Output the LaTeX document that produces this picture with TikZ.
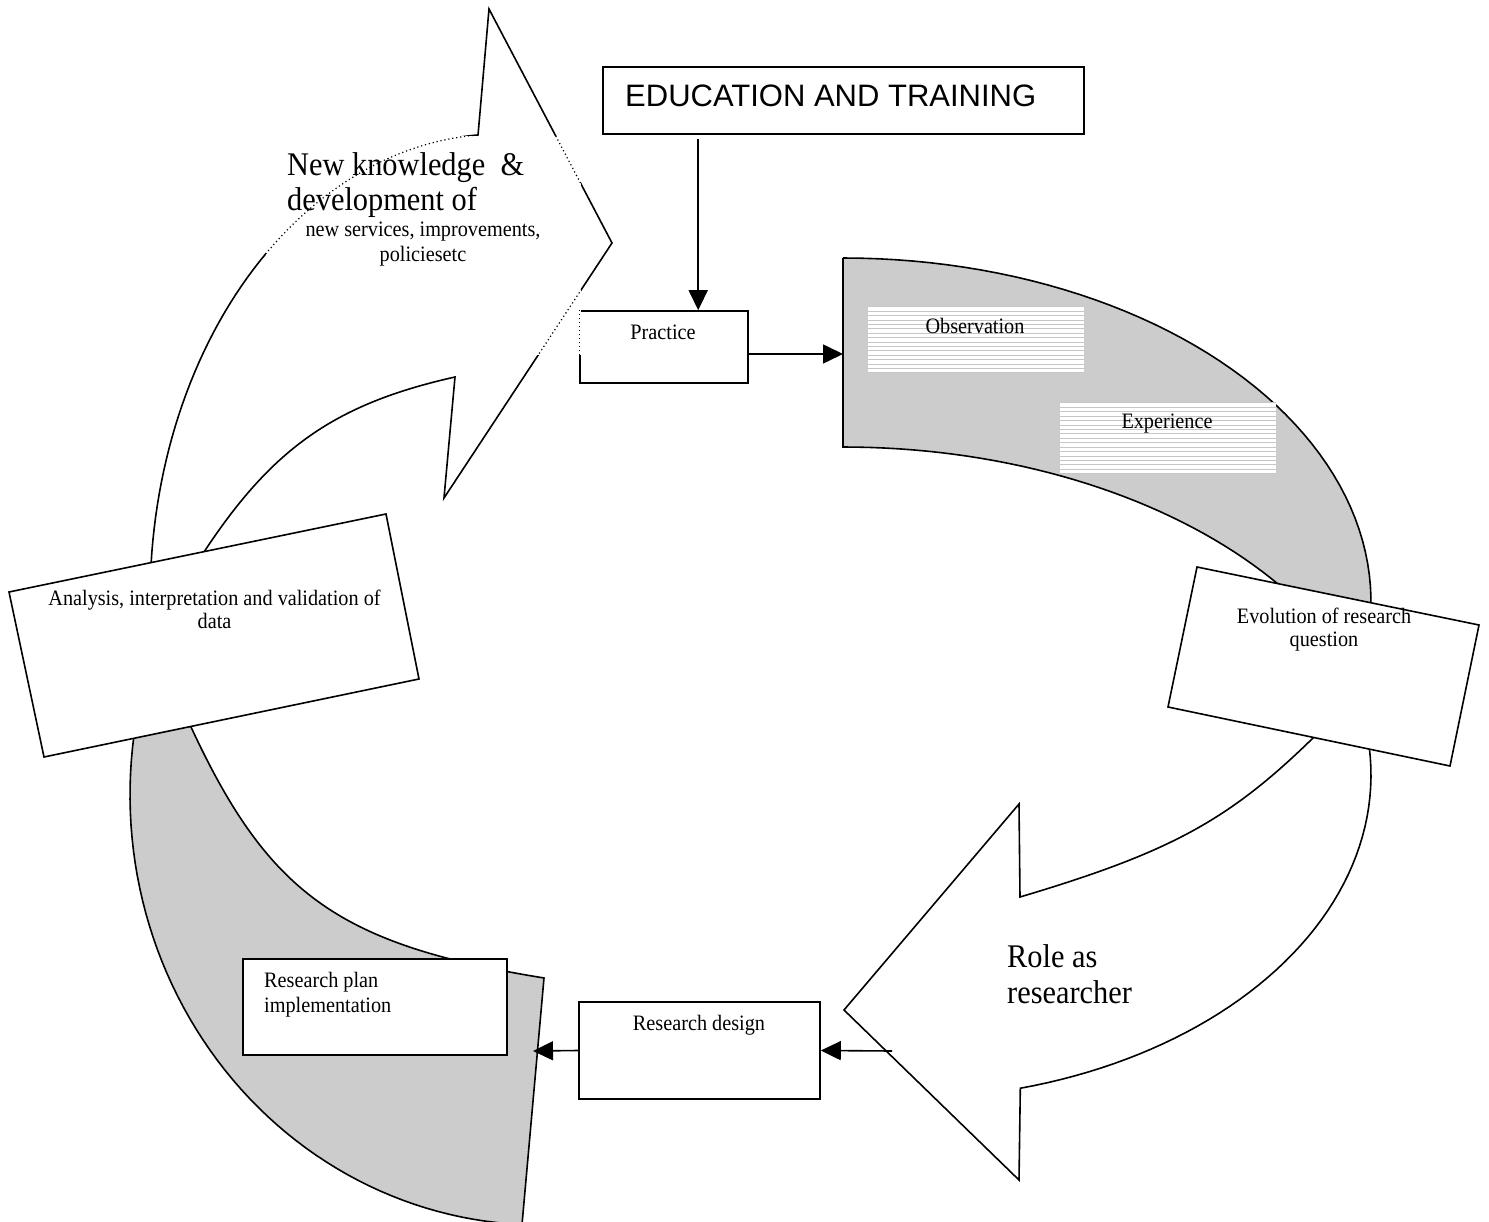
\documentclass[tikz,border=0pt]{standalone}
\usepackage{fontspec}
\setmainfont{Liberation Serif}[FakeStretch=0.92]
\newfontfamily\sansf{Liberation Sans}
\usetikzlibrary{arrows.meta}
\definecolor{shade}{RGB}{204,204,204}
\definecolor{hatchc}{RGB}{198,198,198}
\newcommand\TLpath{plot[domain=180:93.6, samples=60] ({500+350*cos(\x)},{600-466*sin(\x)}) -- (489,9) -- (612,243) -- (444,498) -- (455,377) .. controls (335.7,403.8) and (272.8,447.5) .. (204,552) -- (187,577) -- cycle}
\begin{document}
\begin{tikzpicture}[x=1pt,y=-1pt,
  outline/.style={draw=black, line width=1.6pt, line join=miter},
  panel/.style={draw=black, line width=1.6pt, fill=white},
  boxst/.style={draw=black, line width=1.6pt, fill=white, inner sep=0pt},
  sm/.style={font=\fontsize{22}{24}\selectfont, inner sep=0pt},
  lg/.style={font=\fontsize{33}{36}\selectfont, inner sep=0pt},
  arr/.style={line width=1.6pt, -{Triangle[length=20pt,width=19pt]}},
  hatch/.style={draw=hatchc, line width=0.9pt},
  dots/.style={draw=black, line width=1.2pt, dash pattern=on 1.2pt off 2.8pt},
  hbox/.style={fill=white, inner sep=0pt},
]
\useasboundingbox (0,0) rectangle (1489,1222);

% gray band bottom-left
\path[fill=shade, outline] (178,700) -- (191,727) .. controls (268.8,894.6) and (339.5,944.8) .. (544,978) -- (522,1224.6) -- plot[domain=267.5:167, samples=60] ({540+410*cos(\x)},{795-430*sin(\x)}) -- cycle;

% big white curved arrow top-left
\path[fill=white, outline] \TLpath;

% gray band top-right
\path[fill=shade, outline] (843,258) -- plot[domain=90:33, samples=40] ({843+550*cos(\x)},{800-353*sin(\x)}) -- plot[domain=-3:90, samples=50] ({843+528*cos(\x)},{602-344*sin(\x)}) -- cycle;

% white curved arrow bottom-right
\path[fill=white, outline] plot[domain=10:-75.2, samples=50] ({900+471*cos(\x)},{775-324*sin(\x)}) -- (1019,1180) -- (844,1010) -- (1019,804) -- (1020,897) .. controls (1169.8,852.4) and (1228.5,820.6) .. (1313,738) -- (1342,710) -- cycle;

% hatched labels
\node[hbox, minimum width=216pt, minimum height=66pt] (obsbox) at (976,340) {};
\foreach \k in {0,...,15} \draw[hatch] ([yshift=-\k*4.4pt]obsbox.north west) -- ([yshift=-\k*4.4pt]obsbox.north east);
\node[sm, anchor=base] (obst) at (975,334) {Observation};
\node[hbox, minimum width=216pt, minimum height=71pt] (expbox) at (1168,438.5) {};
\foreach \k in {0,...,16} \draw[hatch] ([yshift=-\k*4.4375pt]expbox.north west) -- ([yshift=-\k*4.4375pt]expbox.north east);
\node[sm, anchor=base] (expt) at (1167,429) {Experience};

% boxes
\node[boxst, minimum width=481pt, minimum height=67pt] (edu) at (843.5,100.5) {};
\node[anchor=base west, inner sep=0pt, font=\sansf\fontsize{31}{36}\selectfont] (edut) at (625,107) {EDUCATION AND TRAINING};
\node[boxst, minimum width=168pt, minimum height=72pt] (practice) at (664,347) {};
\node[sm, anchor=base] (practicet) at (663,340) {Practice};

\draw[panel] (1197,567) -- (1479,625) -- (1450,766) -- (1168,707) -- cycle;
\node[sm, anchor=base] (evo1) at (1324,623) {Evolution of research};
\node[sm, anchor=base] (evo2) at (1324,646) {question};

\draw[panel] (9,592) -- (386,514) -- (419,679) -- (44,757) -- cycle;
\node[sm, anchor=base] (ana1) at (214.5,605) {Analysis, interpretation and validation of};
\node[sm, anchor=base] (ana2) at (214.5,628) {data};

\node[boxst, minimum width=264pt, minimum height=96pt] (rplan) at (375,1007) {};
\node[sm, anchor=base west] (rplan1) at (264,987) {Research plan};
\node[sm, anchor=base west] (rplan2) at (264,1012) {implementation};

\node[boxst, minimum width=241pt, minimum height=97pt] (rdesign) at (699.5,1050.5) {};
\node[sm, anchor=base] (rdesignt) at (699,1030) {Research design};

% text box over the top-left arrow
\fill[white] (266,136) rectangle (581,355);
\begin{scope}
  \clip (266,136) rectangle (581,355);
  \path[dots] \TLpath;
  \draw[dots] (practice.north west) -- (practice.south west);
\end{scope}
\node[lg, anchor=base west] (nk1) at (287,176) {New knowledge\ \ \&};
\node[lg, anchor=base west] (nk2) at (287,211) {development of};
\node[sm, anchor=base] (nk3) at (423,237) {new services, improvements,};
\node[sm, anchor=base] (nk4) at (423,262) {policiesetc};

\node[lg, anchor=base west] (role1) at (1007,967) {Role as};
\node[lg, anchor=base west] (role2) at (1007,1003) {researcher};

% connectors
\coordinate (obsin) at (843,354);
\coordinate (rolefoot) at (892,1051);
\coordinate (planin) at (533,1051);
\draw[arr] ([xshift=96pt,yshift=-4pt]edu.south west) -- ([xshift=119pt]practice.north west);
\draw[arr] ([yshift=-7pt]practice.east) -- (obsin);
\draw[arr] (rolefoot) -- (rdesign.east);
\draw[arr] (rdesign.west) -- (planin);
\end{tikzpicture}
\end{document}
